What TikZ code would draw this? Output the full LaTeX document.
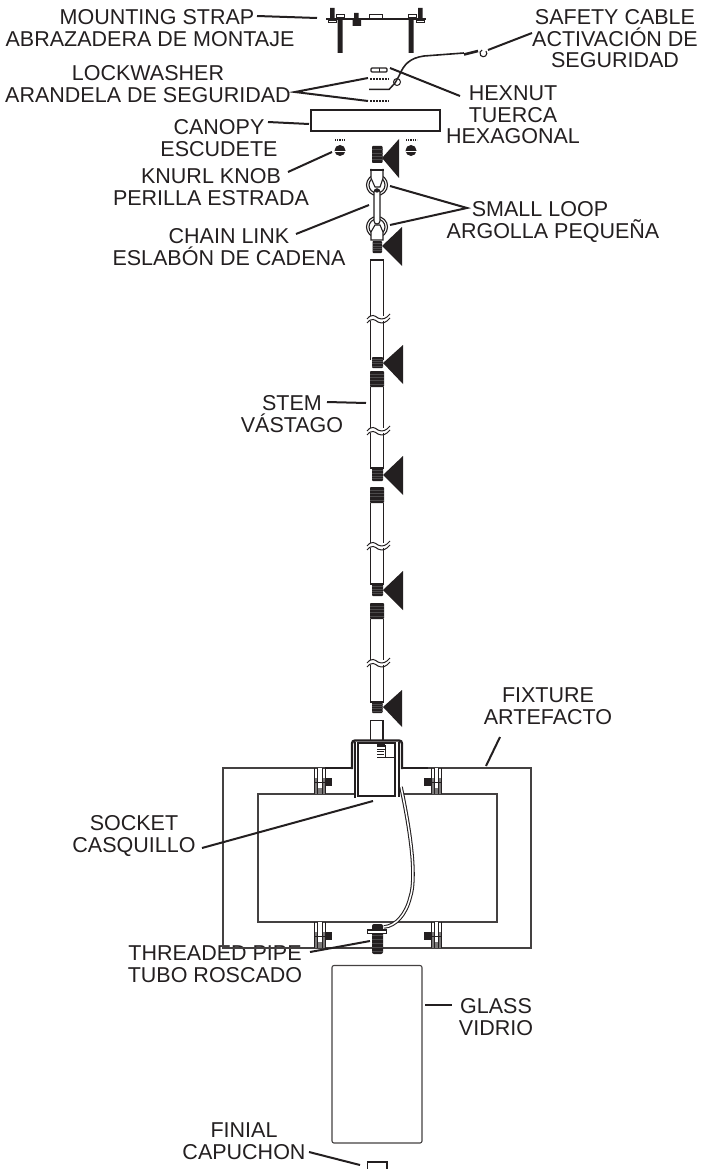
\documentclass[tikz,border=0pt]{standalone}
\usepackage{fontspec}
\setmainfont{Liberation Sans}
\definecolor{ink}{HTML}{231F20}
\tikzset{
  lab/.style={font=\fontsize{21.5}{21.6}\selectfont,align=center,text=ink,inner sep=0pt},
  leader/.style={draw=ink,line width=2pt},
  part/.style={draw=ink,line width=1.4pt},
  heavy/.style={draw=ink,line width=2.4pt},
  wedge/.style={fill=ink,draw=none},
}
% threaded piece: black block with faint ridges
\newcommand{\threaded}[4]{%
  \fill[ink,rounded corners=.8pt] (#1,#3) rectangle (#2,#4);
  \foreach \t in {1,...,4}{\draw[gray!45!ink,line width=.4pt] (#1,{#3+(#4-#3)*\t/5}) -- (#2,{#3+(#4-#3)*\t/5});}}
% stem with wavy break
\newcommand{\stembreak}[1]{%
  \fill[white] (366,#1-2) rectangle (388,#1+3);
  \draw[part,line width=1pt] (367,#1+1) .. controls (372,#1-5) and (375,#1-2) .. (378,#1) .. controls (382,#1+2) and (386,#1+1) .. (390,#1-4);
  \draw[part,line width=1pt] (367,#1+5) .. controls (372,#1-1) and (375,#1+2) .. (378,#1+4) .. controls (382,#1+6) and (386,#1+5) .. (390,#1);}
% fixture clamp: x1, x2, nut centre x, top y
\newcommand{\clamp}[4]{%
  \begin{scope}[shift={(0,#4)}]
  \fill[ink!60] (#1,10) rectangle (#2,26);
  \fill[white] (#1+3,0) rectangle (#2-3,20);
  \draw[ink,line width=.9pt] (#1,0) -- (#1,26) (#2,0) -- (#2,26) (#1+3,0) -- (#1+3,26) (#2-3,0) -- (#2-3,26);
  \fill[ink] (#3-3.5,10) rectangle (#3+3.5,18);
  \draw[ink,line width=.9pt] (#1,14) -- (#2,14);
  \end{scope}}
\begin{document}
\begin{tikzpicture}[x=1pt,y=-1pt]
\useasboundingbox (0,0) rectangle (712,1169);
% ---------- labels
\node[lab] (strap) at (150,28) {\kern14pt MOUNTING STRAP\\ABRAZADERA DE MONTAJE};
\node[lab] (cable) at (615,39) {SAFETY CABLE\\ACTIVACIÓN DE\\SEGURIDAD};
\node[lab] (lockw) at (148,84) {LOCKWASHER\\ARANDELA DE SEGURIDAD};
\node[lab] (hexn) at (513,115) {HEXNUT\\TUERCA\\HEXAGONAL};
\node[lab] (canopy) at (219,138) {CANOPY\\ESCUDETE};
\node[lab] (knurl) at (211,187) {KNURL KNOB\\PERILLA ESTRADA};
\node[lab] (chain) at (229,247) {CHAIN LINK\\ESLABÓN DE CADENA};
\node[lab] (loop) at (553,222) {\kern-26pt SMALL LOOP\\ARGOLLA PEQUEÑA};
\node[lab] (stemlab) at (292,414) {STEM\\VÁSTAGO};
\node[lab] (fixt) at (548,706) {FIXTURE\\ARTEFACTO};
\node[lab] (sock) at (134,836) {SOCKET\\CASQUILLO};
\node[lab] (pipe) at (215,964) {THREADED PIPE\\TUBO ROSCADO};
\node[lab] (glasslab) at (496,1017) {GLASS\\VIDRIO};
\node[lab] (fin) at (244,1141) {FINIAL\\CAPUCHON};
% ---------- mounting strap
\draw[heavy] (326,19) -- (426,19);
\fill[ink] (337.5,19) rectangle (342.5,53) (408.5,19) rectangle (413.5,53);
\fill[ink] (330,8) rectangle (334.5,19) (418,8) rectangle (422.5,19);
\draw[part,line width=1pt,fill=white] (336,15) rectangle (344,18) (408,15) rectangle (416,18) (369,15) rectangle (382,19);
\draw[part,line width=1pt,fill=white] (328,20.5) rectangle (336,23) (416,20.5) rectangle (424,23);
\fill[ink] (354,13) rectangle (358.5,19) (352.5,20) rectangle (361,26);
% ---------- lockwasher, hexnut, safety cable
\draw[part,line width=1.1pt,fill=white,rounded corners=1pt] (371,68) rectangle (387,72);
\draw[part,line width=1pt] (379,68) -- (379,72);
\draw[ink,line width=2pt,densely dotted] (370,79) -- (389,79) (370,101.5) -- (389,101.5);
\draw[part,line width=1.5pt] (369,89.5) -- (389,89.5) -- (395,83) -- (399,76);
\draw[part,line width=1pt] (397,82) circle (3.5);
\draw[part,line width=1.6pt] (399,76) .. controls (404,64) and (410,58) .. (424,56) -- (464,53);
\draw[ink,line width=2.6pt] (464,54.5) -- (478,51);
\draw[part,line width=1.1pt] (486,51) arc (-40:250:3.5);
% ---------- canopy
\draw[part] (311,110) rectangle (440,131);
% ---------- knobs
\draw[ink,densely dotted,line width=1.2pt] (335,140) -- (346,140) (406,140) -- (417,140);
\fill[ink] (340,150.5) circle (5.5) (411,150.5) circle (5.5);
\draw[white,line width=.7pt] (335,151) -- (346,151) (406,151) -- (417,151);
\threaded{372}{382.5}{146}{163}
\fill[wedge] (382,158) -- (399,139) -- (399,178) -- cycle;
% ---------- loops and chain link
\draw[part,line width=1.1pt,fill=white] (377,185) circle (10.5);
\draw[part,line width=1.1pt] (377,185) circle (8);
\draw[part,line width=1.1pt,fill=white] (371,169) -- (371,178) -- (375,187) -- (380,187) -- (383,178) -- (383,169);
\draw[ink,line width=1.8pt] (370,170) -- (384,170);
\draw[part,line width=1.1pt,fill=white] (377,227) circle (10.5);
\draw[part,line width=1.1pt] (377,227) circle (8);
\draw[part,line width=1.1pt,fill=white,rounded corners=3pt] (374,189) rectangle (380,224);
\fill[ink] (377,190.5) circle (2.2);
\draw[part,line width=1.1pt,fill=white] (375,225) -- (380,225) -- (383,232) -- (383,240) -- (371,240) -- (371,232) -- cycle;
\threaded{372.5}{382}{241}{253}
\fill[wedge] (382,246) -- (402,227) -- (402,266) -- cycle;
% ---------- stem sections
\draw[part] (370.5,360) -- (370.5,260) -- (383.5,260) -- (383.5,360);
\stembreak{318}
\threaded{372}{383}{357}{368}
\fill[wedge] (383,363) -- (403,345) -- (403,384) -- cycle;
\draw[part] (370.5,387) -- (370.5,468) -- (383.5,468) -- (383.5,387);
\threaded{370}{384}{371}{387}
\stembreak{430}
\threaded{372}{383}{468}{481}
\fill[wedge] (383,475) -- (403,456) -- (403,495) -- cycle;
\draw[part] (370.5,503) -- (370.5,584) -- (383.5,584) -- (383.5,503);
\threaded{370}{384}{487}{503}
\stembreak{545}
\threaded{372}{383}{584}{596}
\fill[wedge] (383,590) -- (403,571) -- (403,610) -- cycle;
\draw[part] (370.5,619) -- (370.5,702) -- (383.5,702) -- (383.5,619);
\threaded{370}{384}{603}{619}
\stembreak{662}
\threaded{372}{382.5}{702}{713}
\fill[wedge] (383,707) -- (402,690) -- (402,727) -- cycle;
\draw[part,line width=1.1pt] (370.5,740) -- (370.5,720.5) -- (383,720.5) -- (383,740);
% ---------- fixture
\draw[part,line width=1.1pt,draw=ink!85] (325,768) -- (223,768) -- (223,948) -- (531,948) -- (531,768) -- (428,768);
\draw[part,line width=1.1pt,draw=ink!85] (355,794) -- (258,794) -- (258,922) -- (497,922) -- (497,794) -- (402,794);
\clamp{314}{325}{328}{768}
\clamp{431}{441}{427}{768}
\clamp{314}{325}{328}{922}
\clamp{431}{441}{427}{922}
% ---------- cup and socket
\draw[heavy,line join=round] (325,768) -- (352,768);
\draw[heavy,line join=round] (402,768) -- (428,768);
\draw[heavy,rounded corners=3pt] (352,769) -- (352,740.5) -- (402,740.5) -- (402,769);
\draw[ink,line width=1.4pt] (355,742) -- (355,798);
\draw[part,line width=1.1pt] (358,743) rectangle (395,796);
\draw[ink,line width=2pt] (398.5,742) -- (398.5,797);
\fill[ink] (377,742) rectangle (385,747);
\draw[ink,line width=1pt] (377,749) -- (385,749) (377,751.5) -- (384,751.5) (377,754) -- (384,754);
\draw[part,line width=1.1pt] (385.5,745) -- (385.5,757) (377,757.5) -- (395,757.5);
% ---------- wire
\draw[ink,line width=3.6pt] (401,787) .. controls (408,820) and (418,875) .. (410,898) .. controls (406,914) and (396,926) .. (384,927);
\draw[white,line width=1.5pt] (401,787) .. controls (408,820) and (418,875) .. (410,898) .. controls (406,914) and (396,926) .. (384,927);
% ---------- threaded pipe
\fill[ink,rounded corners=2pt] (372,924) rectangle (383,954);
\foreach \yy in {935,939,...,951}{\draw[gray!45!ink,line width=.4pt] (372,\yy) -- (383,\yy);}
\draw[part,line width=1.1pt,fill=white] (367.5,930) rectangle (386.5,933.5);
% ---------- glass and finial
\draw[part,line width=1.1pt,draw=ink!85,rounded corners=2pt] (332,965.5) rectangle (422,1143);
\draw[part,line width=1.1pt] (367.5,1169) -- (367.5,1162) -- (387,1162) -- (387,1169);
% ---------- leaders
\coordinate (a1) at (257,16); \coordinate (a2) at (317,18);
\draw[leader] (a1) -- (a2);
\coordinate (c1) at (532,33); \coordinate (c2) at (488,50);
\draw[leader] (c1) -- (c2);
\coordinate (h1) at (390,68); \coordinate (h2) at (460,96);
\draw[leader] (h1) -- (h2);
\coordinate (w0) at (295,92); \coordinate (w1) at (368,78); \coordinate (w2) at (368,101);
\draw[leader] (w1) -- (w0) -- (w2);
\coordinate (n1) at (268,122); \coordinate (n2) at (309,124);
\draw[leader] (n1) -- (n2);
\coordinate (k1) at (288,172); \coordinate (k2) at (332,152);
\draw[leader] (k1) -- (k2);
\coordinate (l1) at (296,234); \coordinate (l2) at (369,205);
\draw[leader] (l1) -- (l2);
\coordinate (s0) at (467,208); \coordinate (s1) at (390,186); \coordinate (s2) at (390,225);
\draw[leader] (s1) -- (s0) -- (s2);
\coordinate (t1) at (327,402); \coordinate (t2) at (366,403);
\draw[leader] (t1) -- (t2);
\coordinate (f1) at (486,766); \coordinate (f2) at (500,737);
\draw[leader] (f1) -- (f2);
\coordinate (q1) at (202,848); \coordinate (q2) at (373,801);
\draw[leader] (q1) -- (q2);
\coordinate (p1) at (310,952); \coordinate (p2) at (370,941);
\draw[leader] (p1) -- (p2);
\coordinate (g1) at (425,1005); \coordinate (g2) at (452,1005);
\draw[leader] (g1) -- (g2);
\coordinate (e1) at (309,1152); \coordinate (e2) at (360,1165);
\draw[leader] (e1) -- (e2);
\end{tikzpicture}
\end{document}
